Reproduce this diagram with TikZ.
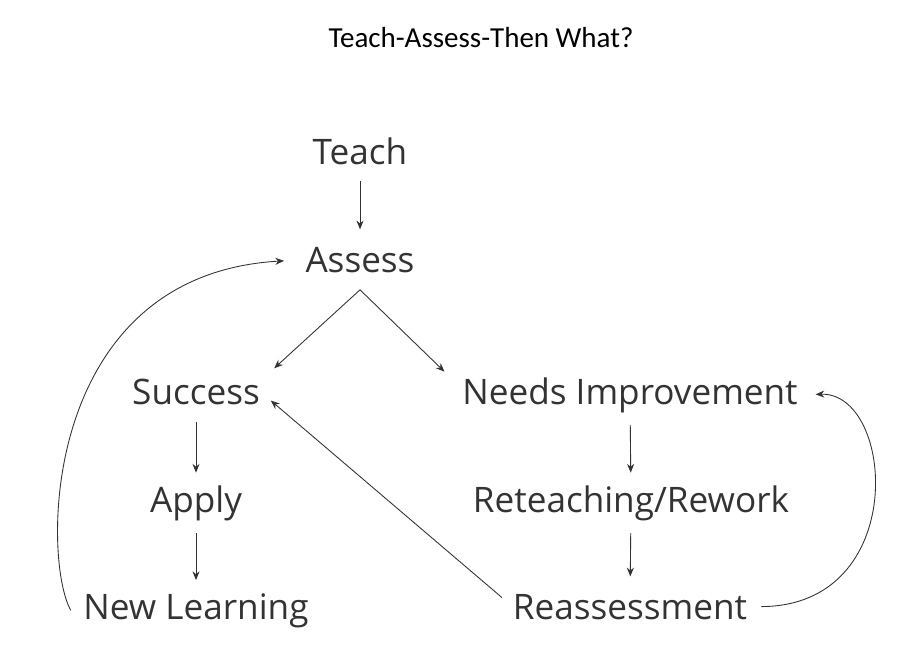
\documentclass[tikz,border=0pt]{standalone}
\usepackage{fontspec}
\setmainfont{Open Sans}
\newfontfamily\titlefont{Carlito}
\usetikzlibrary{arrows.meta}
\definecolor{inkgray}{HTML}{333333}

\begin{document}
\begin{tikzpicture}[x=0.02cm, y=-0.02cm,
  every node/.style={inner sep=0pt, text=inkgray, font=\fontsize{20}{24}\selectfont},
  stage/.style={minimum height=34pt, anchor=base},
  arr/.style={draw=inkgray, line width=0.5pt, -{Stealth[length=5pt, width=4pt]}},
  ]
  \useasboundingbox (0,0) rectangle (922,646);
  \node[font=\titlefont\fontsize{16.5}{20}\selectfont, text=black, anchor=base] (title) at (481,47) {Teach-Assess-Then What?};
  \node[stage] (teach) at (360,164) {Teach};
  \node[stage] (assess) at (360,272) {Assess};
  \node[stage] (success) at (196,404) {Success};
  \node[stage] (needs) at (630,404) {Needs Improvement};
  \node[stage] (apply) at (196,512) {Apply};
  \node[stage] (rework) at (631,512) {Reteaching/Rework};
  \node[stage] (newlearn) at (196,619) {New Learning};
  \node[stage] (reassess) at (630,619) {Reassessment};
  \draw[arr] (teach) -- (assess);
  \draw[arr] (assess.south) -- ([xshift=8pt,yshift=-4pt]success.north east);
  \draw[arr] (assess.south) -- ([xshift=-10pt,yshift=-4pt]needs.north west);
  \draw[arr] (success) -- (apply);
  \draw[arr] (apply) -- (newlearn);
  \draw[arr] (needs) -- (rework);
  \draw[arr] (rework) -- (reassess);
  \draw[arr, shorten <=8pt, shorten >=8pt] (reassess.west) -- (success.east);
  % loops back up the sides
  \draw[arr, shorten <=8pt, shorten >=10pt] (reassess.east) .. controls (910,606) and (895,392) .. (needs.east);
  \draw[arr, shorten >=12pt] ([xshift=-7pt]newlearn.west) .. controls (42,560) and (40,275) .. (assess.west);
\end{tikzpicture}
\end{document}
